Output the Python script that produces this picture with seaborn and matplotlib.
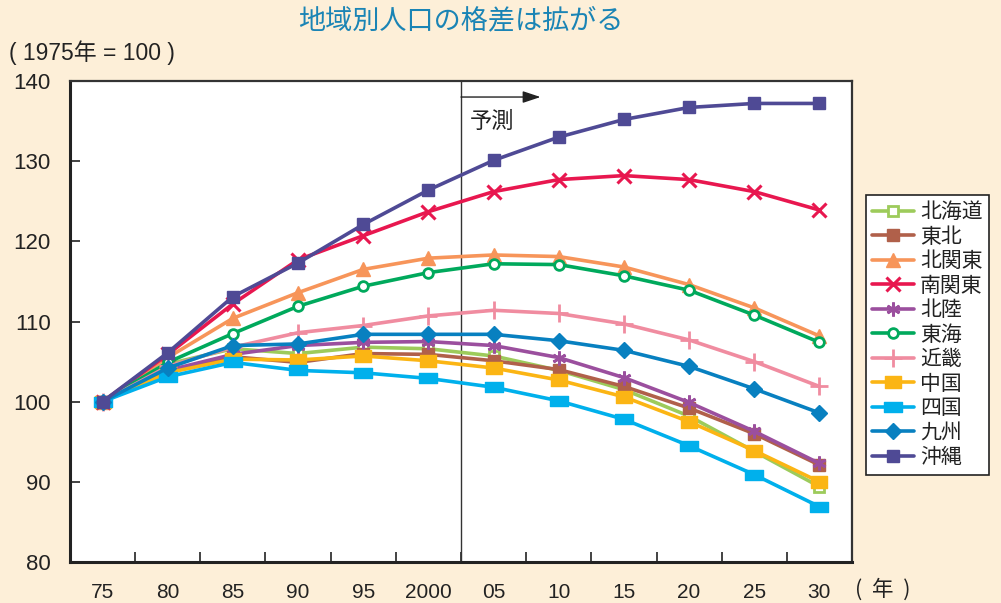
import numpy as np
import matplotlib
matplotlib.use("Agg")
import matplotlib.pyplot as plt
from matplotlib.path import Path
import seaborn as sns

# ---- data (1975 = 100) ----
years = [1975, 1980, 1985, 1990, 1995, 2000, 2005, 2010, 2015, 2020, 2025, 2030]
year_labels = ["75", "80", "85", "90", "95", "2000", "05", "10", "15", "20", "25", "30"]

hokkaido = [100, 104.7, 106.6, 106.0, 106.8, 106.6, 105.7, 103.9, 101.5, 98.2, 93.8, 89.4]
tohoku = [100, 103.8, 105.6, 104.9, 106.0, 105.9, 105.1, 104.0, 101.9, 99.2, 96.0, 92.1]
kita_kanto = [100, 105.5, 110.4, 113.6, 116.5, 117.9, 118.3, 118.1, 116.8, 114.6, 111.7, 108.2]
minami_kanto = [100, 105.9, 112.2, 117.7, 120.7, 123.7, 126.2, 127.7, 128.2, 127.7, 126.2, 123.9]
hokuriku = [100, 103.9, 105.9, 107.0, 107.4, 107.5, 107.0, 105.5, 103.0, 99.9, 96.3, 92.3]
tokai = [100, 104.9, 108.5, 111.9, 114.4, 116.1, 117.2, 117.1, 115.7, 113.9, 110.8, 107.4]
kinki = [100, 104.4, 106.8, 108.6, 109.5, 110.7, 111.4, 111.0, 109.7, 107.7, 105.0, 101.9]
chugoku = [100, 103.6, 105.3, 105.2, 105.7, 105.1, 104.2, 102.7, 100.6, 97.5, 93.9, 90.0]
shikoku = [100, 103.1, 104.9, 103.9, 103.6, 102.9, 101.8, 100.1, 97.8, 94.5, 90.9, 86.9]
kyushu = [100, 104.2, 107.0, 107.2, 108.4, 108.4, 108.4, 107.6, 106.4, 104.4, 101.6, 98.6]
okinawa = [100, 106.1, 113.1, 117.3, 122.1, 126.4, 130.1, 133.0, 135.2, 136.7, 137.2, 137.2]

regions = ["北海道", "東北", "北関東", "南関東", "北陸", "東海", "近畿", "中国", "四国", "九州", "沖縄"]
series = [hokkaido, tohoku, kita_kanto, minami_kanto, hokuriku, tokai, kinki,
          chugoku, shikoku, kyushu, okinawa]

# ---- styling ----
wide_rect = Path([(-1.5, -0.85), (1.5, -0.85), (1.5, 0.85), (-1.5, 0.85), (-1.5, -0.85)],
                 closed=True)
mid_rect = Path([(-1.2, -0.9), (1.2, -0.9), (1.2, 0.9), (-1.2, 0.9), (-1.2, -0.9)],
                closed=True)
styles = {
    "北海道": dict(color="#9dcb5b", marker="s", ms=7, mfc="white", mew=2.0),
    "東北": dict(color="#b0604a", marker="s", ms=8, mfc=None, mew=1.0),
    "北関東": dict(color="#f7955a", marker="^", ms=10, mfc=None, mew=1.0),
    "南関東": dict(color="#e8174f", marker="x", ms=10, mfc=None, mew=2.2),
    "北陸": dict(color="#9b4f9e", marker=(6, 2, 0), ms=10, mfc=None, mew=2.0),
    "東海": dict(color="#00a95c", marker="o", ms=7, mfc="white", mew=2.0),
    "近畿": dict(color="#f08ca0", marker="+", ms=13, mfc=None, mew=2.0),
    "中国": dict(color="#fbb514", marker=mid_rect, ms=11, mfc=None, mew=1.0),
    "四国": dict(color="#00b0ec", marker=wide_rect, ms=13, mfc=None, mew=1.0),
    "九州": dict(color="#0880c0", marker="D", ms=8, mfc=None, mew=1.0),
    "沖縄": dict(color="#4f4a95", marker="s", ms=9, mfc=None, mew=1.0),
}

bg = "#fdefd8"
ink = "#222222"
sns.set_theme(style="white")
plt.rcParams["font.family"] = ["Liberation Sans", "Noto Sans CJK JP", "DejaVu Sans"]
jp = ["Noto Sans CJK JP", "DejaVu Sans"]

fig = plt.figure(figsize=(10.01, 6.03), dpi=100, facecolor=bg)
ax = fig.add_axes([70 / 1001, 1 - 562 / 603, (852 - 70) / 1001, (562 - 81) / 603])
ax.set_facecolor("white")

xpos = np.arange(len(years))
for name, vals in zip(regions, series):
    st = styles[name]
    sns.lineplot(x=xpos, y=vals, ax=ax, color=st["color"], linewidth=2.6,
                 marker=st["marker"], markersize=st["ms"],
                 markerfacecolor=st["mfc"] if st["mfc"] else st["color"],
                 markeredgecolor=st["color"], markeredgewidth=st["mew"],
                 label=name, legend=False)

ax.set_xlim(-0.5, len(years) - 0.5)
ax.set_ylim(80, 140)

# category boundaries as tick marks, labels in the middle of each category
ax.set_xticks(np.arange(0.5, len(years) - 0.5, 1.0))
ax.set_xticklabels([])
ax.set_xticks(xpos, minor=True)
ax.set_xticklabels(year_labels, minor=True, fontsize=15)
ax.tick_params(axis="x", which="major", direction="in", length=7, width=1.2,
               color=ink, bottom=True)
ax.tick_params(axis="x", which="minor", length=0, pad=15, labelcolor=ink)

ax.set_yticks(np.arange(80, 141, 10))
ax.tick_params(axis="y", direction="in", length=7, width=1.2, color=ink,
               left=True, pad=14, labelsize=16, labelcolor=ink)

for side in ["left", "bottom"]:
    ax.spines[side].set_linewidth(2.2)
    ax.spines[side].set_color(ink)
for side in ["top", "right"]:
    ax.spines[side].set_linewidth(1.6)
    ax.spines[side].set_color("#333333")

# forecast divider and arrow
ax.axvline(5.5, color="#333333", linewidth=1.0, zorder=1)
ax.annotate("", xy=(6.72, 138.0), xytext=(5.5, 138.0),
            arrowprops=dict(arrowstyle="-|>,head_length=0.9,head_width=0.3",
                            color=ink, linewidth=1.0, shrinkA=0, shrinkB=0))
ax.text(5.63, 135.0, "予測", fontsize=16, family=jp, color=ink,
        ha="left", va="center")

# titles and unit notes
fig.text(461 / 1001, 1 - 21 / 603, "地域別人口の格差は拡がる", fontsize=19.5, family=jp,
         color="#1a84b5", ha="center", va="center")
fig.text(9 / 1001, 1 - 53 / 603, "( 1975年 = 100 )", fontsize=16.5,
         color=ink, ha="left", va="center")
fig.text(855 / 1001, 1 - 590 / 603, "(  年  )", fontsize=15.5, family=jp,
         color=ink, ha="left", va="center")

leg = ax.legend(loc="upper left", bbox_to_anchor=(866 / 1001, 1 - 195 / 603),
                bbox_transform=fig.transFigure, borderaxespad=0, frameon=True,
                fancybox=False, edgecolor=ink, facecolor="white", framealpha=1,
                prop=dict(family=jp, size=15), handlelength=2.0,
                handletextpad=0.3, labelspacing=0.12, borderpad=0.3)
leg.get_frame().set_linewidth(1.2)
for t in leg.get_texts():
    t.set_color(ink)

fig.savefig("out.png", dpi=100, facecolor=bg)
